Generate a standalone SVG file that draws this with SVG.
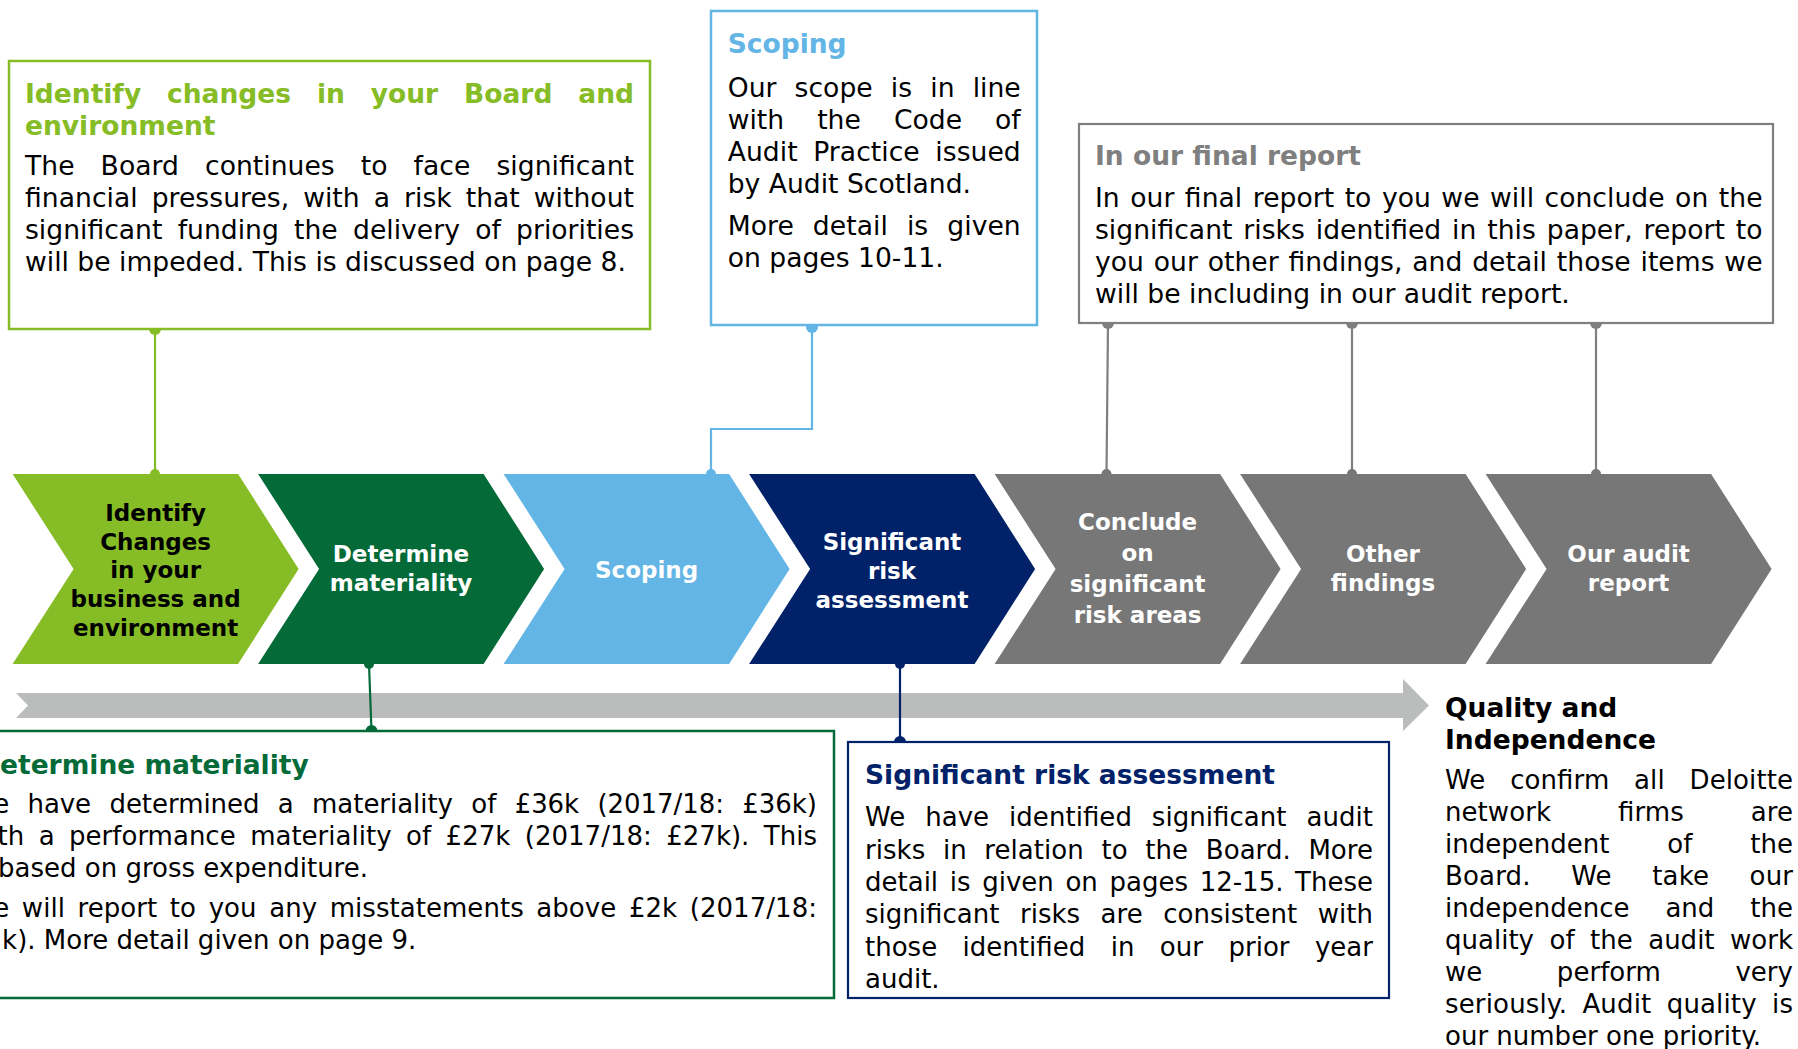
<svg xmlns="http://www.w3.org/2000/svg" xmlns:xlink="http://www.w3.org/1999/xlink" width="1798" height="1049" viewBox="0 0 1798 1049">
  <style>
    text { font-family: "DejaVu Sans", Verdana, sans-serif; }
    .body { font-size: 26.6px; fill: #000; }
    .body2 { font-size: 26px; fill: #000; }
    .ttl { font-size: 26.5px; font-weight: bold; }
    .lbl { font-size: 23px; font-weight: bold; fill: #fff; text-anchor: middle; }
    .box { fill: #fff; stroke-width: 2.5; }
    .wire { fill: none; stroke-width: 2.2; }
  </style>
  <defs>
    <!-- one step of the process arrow -->
    <path id="chev" d="M0,0 H225.5 L286,95 L225.5,190 H0 L61,95 Z"/>
  </defs>

  <rect width="1798" height="1049" fill="#fff"/>

  <!-- timeline bar -->
  <polygon points="16,693 1403,693 1403,679 1429,705.5 1403,731 1403,718 16,718 28,705.5" fill="#BBBCBC"/>

  <!-- process steps -->
  <g id="step-identify">
    <use xlink:href="#chev" x="12.6" y="474" fill="#86BC25"/>
    <text class="lbl" style="fill:#000" x="155.6" y="521">Identify</text>
    <text class="lbl" style="fill:#000" x="155.6" y="550">Changes</text>
    <text class="lbl" style="fill:#000" x="155.6" y="578">in your</text>
    <text class="lbl" style="fill:#000" x="155.6" y="607">business and</text>
    <text class="lbl" style="fill:#000" x="155.6" y="636">environment</text>
  </g>
  <g id="step-materiality">
    <use xlink:href="#chev" x="258.1" y="474" fill="#046A38"/>
    <text class="lbl" x="401" y="562">Determine</text>
    <text class="lbl" x="401" y="591">materiality</text>
  </g>
  <g id="step-scoping">
    <use xlink:href="#chev" x="503.6" y="474" fill="#62B5E5"/>
    <text class="lbl" x="646.6" y="578">Scoping</text>
  </g>
  <g id="step-risk">
    <use xlink:href="#chev" x="749.1" y="474" fill="#012169"/>
    <text class="lbl" x="892" y="550">Significant</text>
    <text class="lbl" x="892" y="579">risk</text>
    <text class="lbl" x="892" y="608">assessment</text>
  </g>
  <g id="step-conclude">
    <use xlink:href="#chev" x="994.6" y="474" fill="#777777"/>
    <text class="lbl" x="1137.6" y="530">Conclude</text>
    <text class="lbl" x="1137.6" y="561">on</text>
    <text class="lbl" x="1137.6" y="592">significant</text>
    <text class="lbl" x="1137.6" y="623">risk areas</text>
  </g>
  <g id="step-findings">
    <use xlink:href="#chev" x="1240.1" y="474" fill="#777777"/>
    <text class="lbl" x="1383" y="562">Other</text>
    <text class="lbl" x="1383" y="591">findings</text>
  </g>
  <g id="step-report">
    <use xlink:href="#chev" x="1485.6" y="474" fill="#777777"/>
    <text class="lbl" x="1628.6" y="562">Our audit</text>
    <text class="lbl" x="1628.6" y="591">report</text>
  </g>

  <!-- connectors between steps and callouts -->
  <g id="connectors">
    <polyline class="wire" stroke="#86BC25" points="155,329 155,474"/>
    <circle cx="155" cy="329" r="6" fill="#86BC25"/>
    <circle cx="155" cy="474" r="5" fill="#86BC25"/>

    <polyline class="wire" stroke="#62B5E5" points="812,327 812,429 711,429 711,474"/>
    <circle cx="812" cy="327" r="6" fill="#62B5E5"/>
    <circle cx="711" cy="474" r="5" fill="#62B5E5"/>

    <polyline class="wire" stroke="#7F7F7F" points="1108,323 1106.5,474"/>
    <polyline class="wire" stroke="#7F7F7F" points="1352,323 1352,474"/>
    <polyline class="wire" stroke="#7F7F7F" points="1596,323 1596,474"/>
    <circle cx="1108" cy="323" r="6" fill="#7F7F7F"/>
    <circle cx="1352" cy="323" r="6" fill="#7F7F7F"/>
    <circle cx="1596" cy="323" r="6" fill="#7F7F7F"/>
    <circle cx="1106.5" cy="474" r="5" fill="#777777"/>
    <circle cx="1352" cy="474" r="5" fill="#777777"/>
    <circle cx="1596" cy="474" r="5" fill="#777777"/>

    <polyline class="wire" stroke="#046A38" points="369,664 371.5,731"/>
    <circle cx="369" cy="664" r="5" fill="#046A38"/>
    <circle cx="371.5" cy="731" r="6" fill="#046A38"/>

    <polyline class="wire" stroke="#012169" points="900,664 900,742"/>
    <circle cx="900" cy="664" r="5" fill="#012169"/>
    <circle cx="900" cy="742" r="6" fill="#012169"/>
  </g>

  <!-- callout: business and environment -->
  <g id="note-identify">
    <rect class="box" x="9" y="61" width="641" height="268" stroke="#86BC25"/>
    <text class="ttl" fill="#86BC25" x="25" y="103" textLength="609" lengthAdjust="spacing" style="word-spacing:16.7px">Identify changes in your Board and</text>
    <text class="ttl" fill="#86BC25" x="25" y="135">environment</text>
    <text class="body" x="25" y="175" textLength="609" lengthAdjust="spacing" style="word-spacing:17.6px">The Board continues to face significant</text>
    <text class="body" x="25" y="207" textLength="609" lengthAdjust="spacing" style="word-spacing:5.5px">financial pressures, with a risk that without</text>
    <text class="body" x="25" y="239" textLength="609" lengthAdjust="spacing" style="word-spacing:6.8px">significant funding the delivery of priorities</text>
    <text class="body" x="25" y="271">will be impeded. This is discussed on page 8.</text>
  </g>

  <!-- callout: scoping -->
  <g id="note-scoping">
    <rect class="box" x="711" y="11" width="326" height="314" stroke="#62B5E5"/>
    <text class="ttl" fill="#62B5E5" x="727.7" y="53">Scoping</text>
    <text class="body" x="727.7" y="97" textLength="293" lengthAdjust="spacing" style="word-spacing:9.7px">Our scope is in line</text>
    <text class="body" x="727.7" y="129" textLength="293" lengthAdjust="spacing" style="word-spacing:24.6px">with the Code of</text>
    <text class="body" x="727.7" y="161" textLength="293" lengthAdjust="spacing" style="word-spacing:7.2px">Audit Practice issued</text>
    <text class="body" x="727.7" y="193">by Audit Scotland.</text>
    <text class="body" x="727.7" y="235" textLength="293" lengthAdjust="spacing" style="word-spacing:10.5px">More detail is given</text>
    <text class="body" x="727.7" y="267">on pages 10-11.</text>
  </g>

  <!-- callout: final report -->
  <g id="note-final">
    <rect class="box" x="1079" y="124" width="694" height="199" stroke="#7F7F7F" style="stroke-width:2.2"/>
    <text class="ttl" fill="#7F7F7F" x="1095" y="165">In our final report</text>
    <text class="body" x="1095" y="207" textLength="667.5" lengthAdjust="spacing" style="word-spacing:2px">In our final report to you we will conclude on the</text>
    <text class="body" x="1095" y="239" textLength="667.5" lengthAdjust="spacing" style="word-spacing:2.4px">significant risks identified in this paper, report to</text>
    <text class="body" x="1095" y="271" textLength="667.5" lengthAdjust="spacing" style="word-spacing:1.4px">you our other findings, and detail those items we</text>
    <text class="body" x="1095" y="303">will be including in our audit report.</text>
  </g>

  <!-- callout: materiality -->
  <g id="note-materiality">
    <rect class="box" x="-10" y="731" width="844" height="267" stroke="#046A38"/>
    <text class="ttl" fill="#046A38" x="-22" y="774">Determine materiality</text>
    <text class="body2" x="-31" y="813" textLength="848" lengthAdjust="spacing" style="word-spacing:10.2px">We have determined a materiality of £36k (2017/18: £36k)</text>
    <text class="body2" x="-31" y="845" textLength="848" lengthAdjust="spacing" style="word-spacing:6.2px">with a performance materiality of £27k (2017/18: £27k). This</text>
    <text class="body2" x="-31" y="877">is based on gross expenditure.</text>
    <text class="body2" x="-31" y="917" textLength="848" lengthAdjust="spacing" style="word-spacing:4.3px">We will report to you any misstatements above £2k (2017/18:</text>
    <text class="body2" x="-31" y="949">£2k). More detail given on page 9.</text>
  </g>

  <!-- callout: significant risks -->
  <g id="note-risk">
    <rect class="box" x="848" y="742" width="541" height="256" stroke="#012169" style="stroke-width:2.2"/>
    <text class="ttl" fill="#012169" x="865" y="784">Significant risk assessment</text>
    <text class="body2" x="865" y="826" textLength="508" lengthAdjust="spacing" style="word-spacing:11.6px">We have identified significant audit</text>
    <text class="body2" x="865" y="858.5" textLength="508" lengthAdjust="spacing" style="word-spacing:9.3px">risks in relation to the Board. More</text>
    <text class="body2" x="865" y="891" textLength="508" lengthAdjust="spacing" style="word-spacing:3.4px">detail is given on pages 12-15. These</text>
    <text class="body2" x="865" y="923" textLength="508" lengthAdjust="spacing" style="word-spacing:12.2px">significant risks are consistent with</text>
    <text class="body2" x="865" y="955.5" textLength="508" lengthAdjust="spacing" style="word-spacing:17.2px">those identified in our prior year</text>
    <text class="body2" x="865" y="988">audit.</text>
  </g>

  <!-- quality and independence -->
  <g id="note-quality">
    <text class="ttl" fill="#000" x="1445" y="717">Quality and</text>
    <text class="ttl" fill="#000" x="1445" y="749">Independence</text>
    <text class="body2" x="1445" y="789" textLength="348" lengthAdjust="spacing" style="word-spacing:16.4px">We confirm all Deloitte</text>
    <text class="body2" x="1445" y="821" textLength="348" lengthAdjust="spacing" style="word-spacing:58.7px">network firms are</text>
    <text class="body2" x="1445" y="853" textLength="348" lengthAdjust="spacing" style="word-spacing:49.6px">independent of the</text>
    <text class="body2" x="1445" y="885" textLength="348" lengthAdjust="spacing" style="word-spacing:32px">Board. We take our</text>
    <text class="body2" x="1445" y="917" textLength="348" lengthAdjust="spacing" style="word-spacing:27.7px">independence and the</text>
    <text class="body2" x="1445" y="949" textLength="348" lengthAdjust="spacing" style="word-spacing:7.2px">quality of the audit work</text>
    <text class="body2" x="1445" y="981" textLength="348" lengthAdjust="spacing" style="word-spacing:66.2px">we perform very</text>
    <text class="body2" x="1445" y="1013" textLength="348" lengthAdjust="spacing" style="word-spacing:6.9px">seriously. Audit quality is</text>
    <text class="body2" x="1445" y="1045">our number one priority.</text>
  </g>
</svg>
